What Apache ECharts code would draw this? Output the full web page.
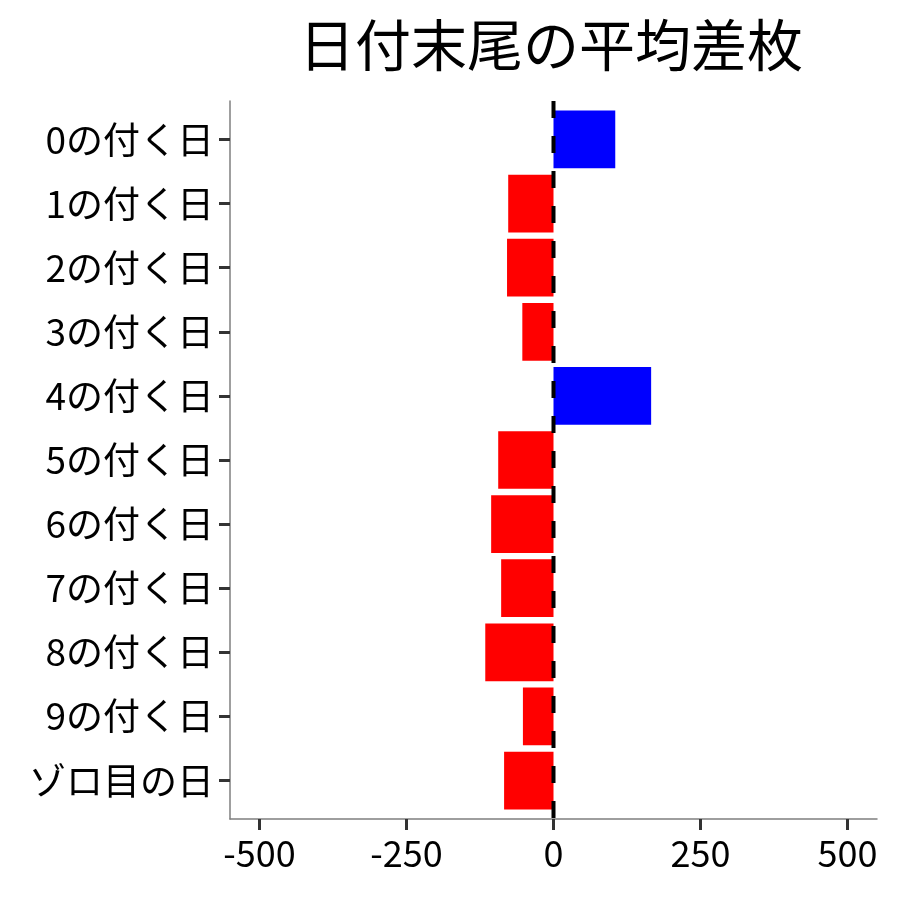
<!DOCTYPE html>
<html>
<head>
<meta charset="utf-8">
<script src="https://cdn.jsdelivr.net/npm/echarts@6/dist/echarts.min.js"></script>
<style>
html,body{margin:0;padding:0;background:#fff;}
#main{width:900px;height:900px;}
</style>
</head>
<body>
<div id="main"></div>
<script>
var titleText = "日付末尾の平均差枚";
var categories = ["0の付く日","1の付く日","2の付く日","3の付く日","4の付く日","5の付く日","6の付く日","7の付く日","8の付く日","9の付く日","ゾロ目の日"];
var values = [105, -77, -79, -53, 166, -94, -106, -89, -116, -52, -84];
var xTicks = [-500, -250, 0, 250, 500];

var FONT = '"Noto Sans CJK JP", "Noto Sans", sans-serif';
var catIdx = categories.map(function(_, i){ return i; });
var barData = values.map(function(v, i){ return [v, i]; });

var chart = echarts.init(document.getElementById('main'), null, {renderer:'canvas'});
chart.setOption({
  animation: false,
  backgroundColor: '#ffffff',
  title: {
    text: titleText,
    left: 546, top: 12, textAlign: 'center',
    textStyle: {fontFamily: FONT, fontSize: 56, fontWeight: 'normal', color: '#000'}
  },
  grid: {left: 230, right: 23, top: 101, bottom: 81, containLabel: false},
  xAxis: {
    type: 'value', min: -550, max: 550,
    splitLine: {show: false},
    axisLine: {show: true, onZero: false, lineStyle: {color: '#7f7f7f', width: 1.5}},
    axisTick: {show: true, customValues: xTicks, length: 11, lineStyle: {color: '#333333', width: 3}},
    axisLabel: {customValues: xTicks, margin: 16, fontFamily: FONT, fontSize: 36, color: '#000'}
  },
  yAxis: {
    type: 'value', min: -0.6, max: 10.6, inverse: true,
    splitLine: {show: false},
    axisLine: {show: true, onZero: false, lineStyle: {color: '#7f7f7f', width: 1.5}},
    axisTick: {show: true, customValues: catIdx, length: 11, lineStyle: {color: '#333333', width: 3}},
    axisLabel: {customValues: catIdx, margin: 16, fontFamily: FONT, fontSize: 37, color: '#000',
      formatter: function(v){ return categories[Math.round(v)] || ''; }}
  },
  series: [
    {
      type: 'custom',
      data: barData,
      renderItem: function(params, api){
        var v = api.value(0), i = api.value(1);
        var p0 = api.coord([0, i - 0.45]);
        var p1 = api.coord([v, i + 0.45]);
        var x = Math.min(p0[0], p1[0]), y = Math.min(p0[1], p1[1]);
        return {
          type: 'rect',
          shape: {x: x, y: y, width: Math.abs(p1[0]-p0[0]), height: Math.abs(p1[1]-p0[1])},
          style: {fill: v >= 0 ? '#0000ff' : '#ff0000'}
        };
      },
      encode: {x: 0, y: 1},
      z: 2
    },
    {
      type: 'line',
      data: [[0, -0.6], [0, 10.6]],
      symbol: 'none',
      lineStyle: {color: '#000', width: 4, type: [17, 18], cap: 'butt'},
      z: 3
    }
  ]
});
</script>
</body>
</html>
